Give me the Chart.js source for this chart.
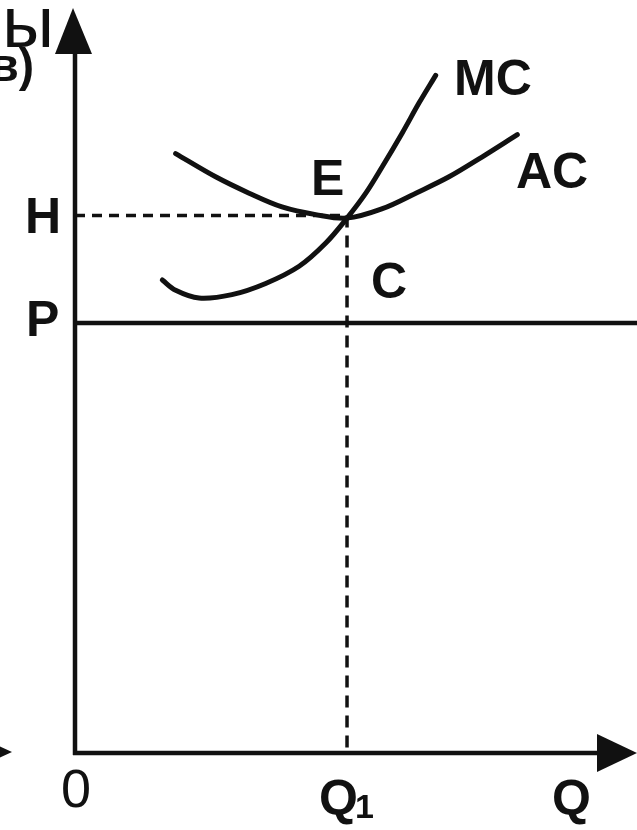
<!DOCTYPE html>
<html>
<head>
<meta charset="utf-8">
<script src="https://cdn.jsdelivr.net/npm/chart.js@4/dist/chart.umd.min.js"></script>
<style>
html,body{margin:0;padding:0;background:#fff;}
#wrap{width:637px;height:830px;position:relative;}
</style>
</head>
<body>
<div id="wrap"><canvas id="c" width="637" height="830"></canvas></div>
<script>
// ---- data ----
const acX = [3.70, 5.17, 6.40, 7.61, 8.85, 10.00, 11.30, 12.53, 13.75, 14.96, 16.26];
const acY = [6.97, 6.70, 6.51, 6.35, 6.26, 6.22, 6.33, 6.51, 6.70, 6.93, 7.19];
const mcX = [3.21, 3.70, 4.56, 5.77, 7.01, 8.24, 9.22, 10.00, 10.69, 11.30, 12.03, 12.65, 13.26];
const mcY = [5.50, 5.38, 5.29, 5.33, 5.46, 5.66, 5.93, 6.22, 6.51, 6.82, 7.21, 7.56, 7.88];
const priceP = 5.0;          // level P
const levelH = 6.25;         // level H
const quantityQ1 = 10;       // Q1
const xRange = [0, 20.66];
const yRange = [0, 8.756];
const curveLabels = ["MC", "AC"];
const pointLabels = ["E", "C"];
const yTickLabels = ["P", "H"];
const xTickLabels = ["0", "Q", "1", "Q"];
const titleParts = ["ы", "в)"];

const pts = (xs, ys) => xs.map((x, i) => ({x: x, y: ys[i]}));
const ink = '#111';

const drawPlugin = {
  id: 'econ',
  beforeDatasetsDraw(chart) {
    const ctx = chart.ctx;
    const xs = chart.scales.x, ys = chart.scales.y;
    const x0 = xs.getPixelForValue(0), y0 = ys.getPixelForValue(0);
    ctx.save();
    ctx.strokeStyle = ink; ctx.fillStyle = ink;
    ctx.lineWidth = 4.5; ctx.lineCap = 'butt';
    // y axis
    ctx.beginPath(); ctx.moveTo(x0, y0 + 2); ctx.lineTo(x0, 50); ctx.stroke();
    ctx.beginPath(); ctx.moveTo(x0 - 2, 8); ctx.lineTo(x0 - 20, 54); ctx.lineTo(x0 + 17, 54); ctx.closePath(); ctx.fill();
    // x axis
    ctx.beginPath(); ctx.moveTo(x0 - 2, y0); ctx.lineTo(600, y0); ctx.stroke();
    ctx.beginPath(); ctx.moveTo(637, y0); ctx.lineTo(597, y0 - 19); ctx.lineTo(597, y0 + 19); ctx.closePath(); ctx.fill();
    // stub of neighbouring arrow
    ctx.beginPath(); ctx.moveTo(12, y0 - 1); ctx.lineTo(-25, y0 - 18); ctx.lineTo(-25, y0 + 16); ctx.closePath(); ctx.fill();
    ctx.restore();
  },
  afterDatasetsDraw(chart) {
    const ctx = chart.ctx;
    const xs = chart.scales.x, ys = chart.scales.y;
    const px = v => xs.getPixelForValue(v), py = v => ys.getPixelForValue(v);
    ctx.save();
    ctx.fillStyle = ink;
    ctx.textAlign = 'left';
    ctx.textBaseline = 'alphabetic';
    ctx.font = 'bold 50px "Liberation Sans", Arial, sans-serif';
    // y labels
    ctx.fillText(yTickLabels[0], 26, py(priceP) + 13);
    ctx.fillText(yTickLabels[1], 25, py(levelH) + 17);
    // curve labels
    ctx.fillText(curveLabels[0], 454, 95);
    ctx.fillText(curveLabels[1], 516, 188);
    // point labels
    ctx.fillText(pointLabels[0], 311, 195);
    ctx.fillText(pointLabels[1], 371, 298);
    // x labels
    ctx.font = '54px "Liberation Sans", Arial, sans-serif';
    ctx.fillText(xTickLabels[0], px(0) - 14, 807);
    ctx.font = 'bold 50px "Liberation Sans", Arial, sans-serif';
    ctx.fillText(xTickLabels[1], px(quantityQ1) - 28, 815);
    ctx.font = 'bold 34px "Liberation Sans", Arial, sans-serif';
    ctx.fillText(xTickLabels[2], px(quantityQ1) + 8, 818);
    ctx.font = 'bold 50px "Liberation Sans", Arial, sans-serif';
    ctx.fillText(xTickLabels[3], 552, 815);
    // top-left fragment
    ctx.font = '72px "Liberation Sans", Arial, sans-serif';
    ctx.textAlign = 'right';
    ctx.fillText(titleParts[0], 54, 47);
    ctx.font = 'bold 46px "Liberation Sans", Arial, sans-serif';
    ctx.fillText(titleParts[1], 34, 81);
    ctx.restore();
  }
};

const common = {showLine: true, pointRadius: 0, borderColor: ink, fill: false, clip: false};

new Chart(document.getElementById('c'), {
  type: 'scatter',
  data: {
    datasets: [
      Object.assign({}, common, {label: 'H', data: [{x: 0, y: levelH}, {x: quantityQ1, y: levelH}], borderWidth: 3.5, borderDash: [10, 7]}),
      Object.assign({}, common, {label: 'Q1', data: [{x: quantityQ1, y: levelH}, {x: quantityQ1, y: 0}], borderWidth: 3.5, borderDash: [12, 8]}),
      Object.assign({}, common, {label: 'P', data: [{x: 0, y: priceP}, {x: xRange[1], y: priceP}], borderWidth: 4.5}),
      Object.assign({}, common, {label: 'AC', data: pts(acX, acY), borderWidth: 5, tension: 0.35, borderCapStyle: 'round'}),
      Object.assign({}, common, {label: 'MC', data: pts(mcX, mcY), borderWidth: 5, tension: 0.35, borderCapStyle: 'round'})
    ]
  },
  options: {
    responsive: false,
    animation: false,
    devicePixelRatio: 1,
    layout: {padding: {left: 75, right: 0, top: 0, bottom: 77}},
    plugins: {legend: {display: false}, tooltip: {enabled: false}},
    scales: {
      x: {type: 'linear', display: false, min: xRange[0], max: xRange[1]},
      y: {type: 'linear', display: false, min: yRange[0], max: yRange[1]}
    }
  },
  plugins: [drawPlugin]
});
</script>
</body>
</html>
